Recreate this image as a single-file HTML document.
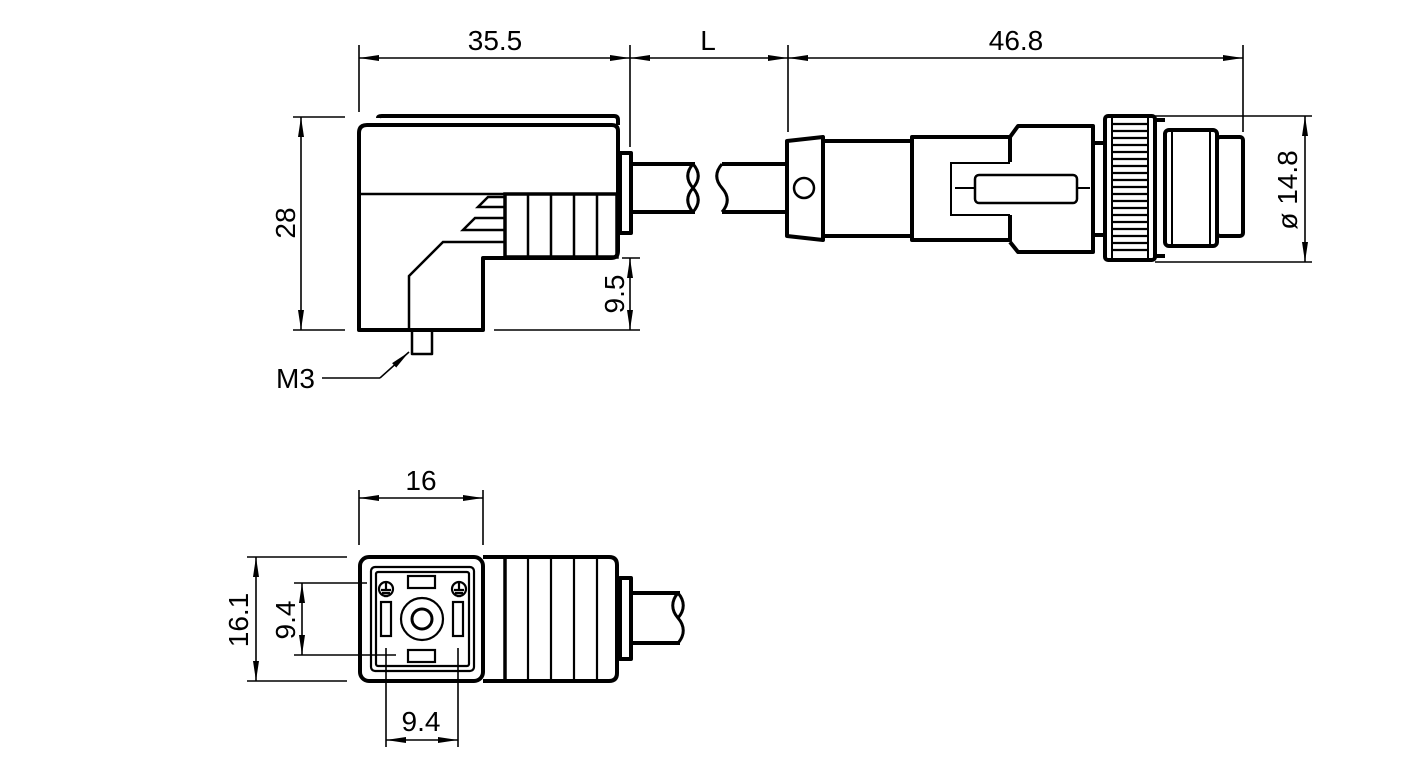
<!DOCTYPE html>
<html><head><meta charset="utf-8"><style>
html,body{margin:0;padding:0;background:#fff;}
svg{display:block;}
text{font-family:"Liberation Sans",sans-serif;font-size:28px;fill:#000;}
</style></head><body>
<svg width="1417" height="780" viewBox="0 0 1417 780" xmlns="http://www.w3.org/2000/svg">
<defs>
<marker id="a" viewBox="0 0 20 8" refX="20" refY="4" markerWidth="20" markerHeight="8" markerUnits="userSpaceOnUse" orient="auto-start-reverse"><path d="M0,1 L20,4 L0,7 Z" fill="#000"/></marker>
</defs>
<g fill="none" stroke="#000" stroke-width="1.6">
<line x1="359" y1="45" x2="359" y2="112"/>
<line x1="630" y1="45" x2="630" y2="147"/>
<line x1="788" y1="45" x2="788" y2="132"/>
<line x1="1243" y1="45" x2="1243" y2="132"/>
<line x1="359" y1="58" x2="630" y2="58" marker-start="url(#a)" marker-end="url(#a)"/>
<line x1="630" y1="58" x2="788" y2="58" marker-start="url(#a)" marker-end="url(#a)"/>
<line x1="788" y1="58" x2="1243" y2="58" marker-start="url(#a)" marker-end="url(#a)"/>
<line x1="293" y1="117" x2="345" y2="117"/>
<line x1="293" y1="330" x2="345" y2="330"/>
<line x1="301" y1="117" x2="301" y2="330" marker-start="url(#a)" marker-end="url(#a)"/>
<line x1="622" y1="258" x2="640" y2="258"/>
<line x1="494" y1="330" x2="640" y2="330"/>
<line x1="630" y1="258" x2="630" y2="330" marker-start="url(#a)" marker-end="url(#a)"/>
<line x1="1155" y1="116" x2="1312" y2="116"/>
<line x1="1155" y1="262" x2="1312" y2="262"/>
<line x1="1305" y1="116" x2="1305" y2="262" marker-start="url(#a)" marker-end="url(#a)"/>
<polyline points="322,378 380,378"/>
<line x1="380" y1="378" x2="409" y2="352" marker-end="url(#a)"/>
</g>
<text x="495" y="50" text-anchor="middle">35.5</text>
<text x="708" y="50" text-anchor="middle">L</text>
<text x="1016" y="50" text-anchor="middle">46.8</text>
<text transform="translate(295,223) rotate(-90)" text-anchor="middle">28</text>
<text transform="translate(624,294) rotate(-90)" text-anchor="middle">9.5</text>
<text transform="translate(1297,190) rotate(-90)" text-anchor="middle">ø 14.8</text>
<text x="276" y="388">M3</text>

<g fill="none" stroke="#000" stroke-width="4" stroke-linejoin="round">
<path d="M378,118 Q378,116 382,116 L614,116 Q618,116 618,120 L618,125"/>
<path d="M367,125 L612,125 Q618,125 618,131 L618,251 Q618,258 611,258 L505,258 L483,258 L483,330 L359,330 L359,133 Q359,125 367,125 Z"/>
<rect x="620" y="153" width="11" height="80"/>
<path d="M631,164 L695,164 M631,212 L695,212"/>
<path d="M693,164 C686,172 686,180 693,188 C700,196 700,204 693,212 M693,164 C700,172 700,180 693,188 C686,196 686,204 693,212" stroke-width="3"/>
<path d="M788,164 L722,164 M788,212 L722,212"/>
<path d="M722,164 C715,172 715,180 722,188 C729,196 729,204 722,212" stroke-width="3"/>
<path d="M412,330 L412,354 L432,354 L432,330" stroke-width="2.5"/>
</g>
<g fill="none" stroke="#000" stroke-width="2.5">
<line x1="359" y1="194" x2="505" y2="194"/>
<rect x="505" y="194" width="112" height="63" stroke-width="3.5"/>
<line x1="528" y1="194" x2="528" y2="257"/>
<line x1="551" y1="194" x2="551" y2="257"/>
<line x1="574" y1="194" x2="574" y2="257"/>
<line x1="597" y1="194" x2="597" y2="257"/>
<polyline points="505,197 488,197 478,207 505,207"/>
<polyline points="505,218 475,218 463,230 505,230"/>
<polyline points="505,242 443,242 409,276 409,330"/>
</g>

<g fill="none" stroke="#000" stroke-width="4" stroke-linejoin="round">
<path d="M787,141 L823,137 L823,240 L787,236 Z"/>
<circle cx="804" cy="188" r="10" stroke-width="2.5"/>
<path d="M823,141 L912,141 M823,236 L912,236"/>
<path d="M1010,162 L1010,137 L912,137 L912,240 L1010,240 L1010,215"/>
<path d="M1010,137 L1018,126 L1093,126 L1093,252 L1018,252 L1010,242"/>
<line x1="1093" y1="143" x2="1105" y2="143"/>
<line x1="1093" y1="235" x2="1105" y2="235"/>
<rect x="1105" y="116" width="50" height="144" rx="3"/>
<path d="M1155,120 L1165,120 M1155,256 L1165,256"/>
<rect x="1165" y="130" width="52" height="116" rx="4"/>
<rect x="1217" y="137" width="26" height="99" rx="3"/>
</g>
<g fill="none" stroke="#000" stroke-width="2">
<path d="M1010,163 L951,163 L951,215 L1010,215"/>
<rect x="975" y="175" width="102" height="28" rx="4" stroke-width="2.5"/>
<path d="M955,188 L975,188 M1077,188 L1090,188"/>
<line x1="1112" y1="116" x2="1112" y2="260"/>
<line x1="1148" y1="116" x2="1148" y2="260"/>
<line x1="1172" y1="132" x2="1172" y2="244"/>
<line x1="1210" y1="132" x2="1210" y2="244"/>
</g>
<g stroke="#000" stroke-width="2.2">
<path d="M1112,124H1148M1112,131H1148M1112,138H1148M1112,145H1148M1112,152H1148M1112,159H1148M1112,166H1148M1112,173H1148M1112,180H1148M1112,187H1148M1112,194H1148M1112,201H1148M1112,208H1148M1112,215H1148M1112,222H1148M1112,229H1148M1112,236H1148M1112,243H1148M1112,250H1148"/>
</g>

<g fill="none" stroke="#000" stroke-width="1.6">
<line x1="359" y1="490" x2="359" y2="545"/>
<line x1="483" y1="490" x2="483" y2="545"/>
<line x1="359" y1="498" x2="483" y2="498" marker-start="url(#a)" marker-end="url(#a)"/>
<line x1="247" y1="557" x2="347" y2="557"/>
<line x1="247" y1="681" x2="347" y2="681"/>
<line x1="256" y1="557" x2="256" y2="681" marker-start="url(#a)" marker-end="url(#a)"/>
<line x1="294" y1="583" x2="367" y2="583"/>
<line x1="294" y1="655" x2="396" y2="655"/>
<line x1="302" y1="583" x2="302" y2="655" marker-start="url(#a)" marker-end="url(#a)"/>
<line x1="386" y1="648" x2="386" y2="747"/>
<line x1="458" y1="648" x2="458" y2="747"/>
<line x1="386" y1="740" x2="458" y2="740" marker-start="url(#a)" marker-end="url(#a)"/>
</g>
<text x="421" y="490" text-anchor="middle">16</text>
<text transform="translate(248,620) rotate(-90)" text-anchor="middle">16.1</text>
<text transform="translate(295,620) rotate(-90)" text-anchor="middle">9.4</text>
<text x="421" y="731" text-anchor="middle">9.4</text>

<g fill="none" stroke="#000" stroke-width="4" stroke-linejoin="round">
<path d="M483,557 L609,557 Q617,557 617,565 L617,673 Q617,681 609,681 L483,681"/>
<rect x="360" y="557" width="123" height="124" rx="9"/>
<rect x="620" y="578" width="11" height="81"/>
<path d="M631,593 L680,593 M631,643 L680,643"/>
<path d="M678,593 C671,601 671,610 678,618 C685,626 685,635 678,643 M678,593 C685,601 685,610 678,618" stroke-width="3"/>
</g>
<g fill="none" stroke="#000" stroke-width="2.2">
<line x1="505" y1="557" x2="505" y2="681" stroke-width="3.5"/>
<line x1="528" y1="557" x2="528" y2="681"/>
<line x1="551" y1="557" x2="551" y2="681"/>
<line x1="574" y1="557" x2="574" y2="681"/>
<line x1="597" y1="557" x2="597" y2="681"/>
<rect x="371" y="567" width="103" height="104" rx="4"/>
<rect x="376" y="572" width="93" height="94" rx="2"/>
<rect x="408" y="576" width="27" height="12"/>
<rect x="408" y="650" width="27" height="12"/>
<rect x="381" y="602" width="10" height="34"/>
<rect x="453" y="602" width="10" height="34"/>
<circle cx="422" cy="619" r="21"/>
<circle cx="422" cy="619" r="10" stroke-width="3"/>
<circle cx="386" cy="589" r="7"/>
<circle cx="459" cy="589" r="7"/>
<path d="M386,582V590M381,590H391M382,593H390M384,596H388"/>
<path d="M459,582V590M454,590H464M455,593H463M457,596H461"/>
</g>
</svg>
</body></html>
